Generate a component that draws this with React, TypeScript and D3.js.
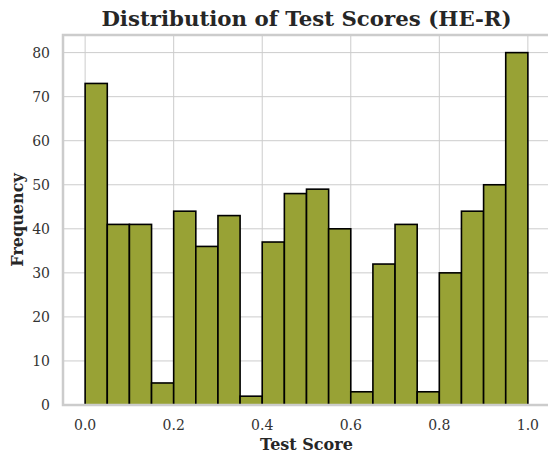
import React from "react";
import * as d3 from "d3";

const binStarts = [0, 0.05, 0.1, 0.15, 0.2, 0.25, 0.3, 0.35, 0.4, 0.45, 0.5, 0.55, 0.6, 0.65, 0.7, 0.75, 0.8, 0.85, 0.9, 0.95];
const counts = [73, 41, 41, 5, 44, 36, 43, 2, 37, 48, 49, 40, 3, 32, 41, 3, 30, 44, 50, 80];
const binWidth = 0.05;
const xTicks = [0, 0.2, 0.4, 0.6, 0.8, 1.0];
const yTicks = [0, 10, 20, 30, 40, 50, 60, 70, 80];

const W = 548, H = 459;
const left = 63, right = 550, top = 35, bottom = 405;
const font = "'DejaVu Serif', serif";

export default function App() {
  const x = d3.scaleLinear().domain([-0.05, 1.05]).range([left, right]);
  const y = d3.scaleLinear().domain([0, 84]).range([bottom, top]);
  return (
    <svg width={W} height={H} style={{ position: "absolute", left: 0, top: 0, background: "#fff" }}>
      <rect x={0} y={0} width={W} height={H} fill="#fff" />
      {yTicks.map(t => (
        <line key={"gy" + t} x1={left} x2={right} y1={y(t)} y2={y(t)} stroke="#cccccc" strokeWidth={1} />
      ))}
      {xTicks.map(t => (
        <line key={"gx" + t} x1={x(t)} x2={x(t)} y1={top} y2={bottom} stroke="#cccccc" strokeWidth={1} />
      ))}
      {counts.map((c, i) => (
        <rect key={i} x={x(binStarts[i])} y={y(c)} width={x(binStarts[i] + binWidth) - x(binStarts[i])} height={y(0) - y(c)}
          fill="#98a235" stroke="#000" strokeWidth={1.6} />
      ))}
      <rect x={left} y={top} width={right - left} height={bottom - top} fill="none" stroke="#cccccc" strokeWidth={2.5} />
      {yTicks.map(t => (
        <text key={"ty" + t} x={left - 13} y={y(t)} dy="0.36em" textAnchor="end" fontFamily={font} fontSize={14} fill="#333">{t}</text>
      ))}
      {xTicks.map(t => (
        <text key={"tx" + t} x={x(t)} y={bottom + 25} textAnchor="middle" fontFamily={font} fontSize={14} fill="#333">{t.toFixed(1)}</text>
      ))}
      <text x={(left + right) / 2} y={26} textAnchor="middle" fontFamily={font} fontSize={21.3} fontWeight="bold" fill="#262626">Distribution of Test Scores (HE-R)</text>
      <text x={(left + right) / 2} y={450} textAnchor="middle" fontFamily={font} fontSize={16} fontWeight="bold" fill="#262626">Test Score</text>
      <text transform={`translate(23,${(top + bottom) / 2}) rotate(-90)`} textAnchor="middle" fontFamily={font} fontSize={16} fontWeight="bold" fill="#262626">Frequency</text>
    </svg>
  );
}
